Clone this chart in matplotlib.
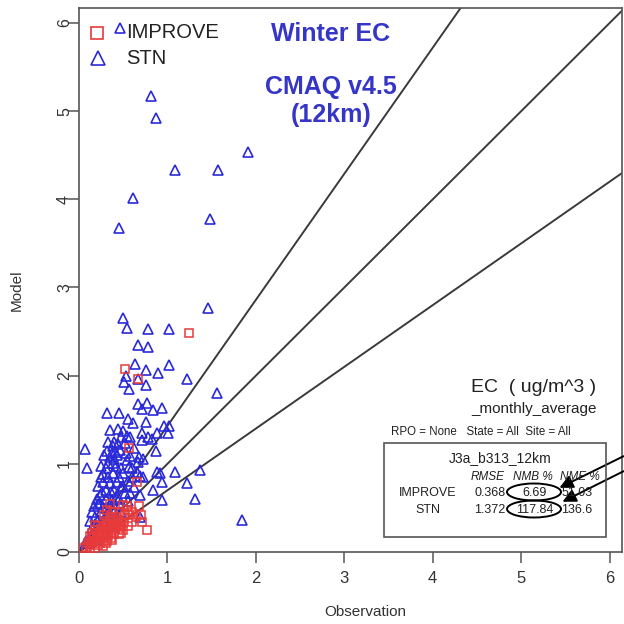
import matplotlib
matplotlib.use("Agg")
import matplotlib.pyplot as plt
from matplotlib.patches import Rectangle, Ellipse
import numpy as np

plt.rcParams['font.family'] = ['Liberation Sans', 'DejaVu Sans']

# STN (blue triangles): observation, model
stn_obs = [0.46, 0.81, 0.87, 1.91, 1.09, 1.57, 0.61, 0.45, 1.48, 1.46, 0.50, 0.54, 0.78, 1.02,
           0.67, 0.78, 0.63, 1.02, 0.76, 0.89, 0.53, 0.67, 0.51, 0.76, 0.57, 1.22, 1.56, 0.67,
           0.77, 0.71, 0.84, 0.94, 0.32, 0.45, 0.55, 0.61, 0.76, 0.96, 1.02, 0.35, 0.44, 0.50,
           0.54, 0.71, 0.78, 0.88, 1.01, 0.33, 0.38, 0.44, 0.52, 0.71, 0.83, 0.87, 0.41, 0.35,
           0.43, 0.58, 0.68, 0.33, 0.38, 0.54, 0.67, 0.72, 0.07, 0.09, 0.57, 0.66, 0.72, 0.69,
           0.88, 0.92, 0.94, 1.09, 1.37, 1.22, 1.31, 0.94, 0.84, 0.69, 0.58, 0.48, 0.35, 0.26,
           0.42, 0.24, 1.84, 0.69, 0.37, 0.46, 0.27, 0.43, 0.27, 0.18, 0.21, 0.32, 0.35, 0.38,
           0.26, 0.15, 0.12, 0.32, 0.43, 0.37, 0.46, 0.52, 0.29, 0.20, 0.25, 0.30, 0.22, 0.28,
           0.35, 0.40, 0.15, 0.18, 0.30, 0.33, 0.38, 0.24, 0.40, 0.45, 0.50, 0.30, 0.27, 0.42,
           0.55, 0.60, 0.10, 0.08, 0.05, 0.20, 0.35, 0.48, 0.55, 0.62, 0.28, 0.25,
           0.15, 0.20, 0.22, 0.30, 0.33, 0.45, 0.50, 0.40, 0.32, 0.25, 0.12, 0.17, 0.36, 0.47,
           0.60, 0.53, 0.62, 0.58, 0.48, 0.40]
stn_mod = [5.94, 5.17, 4.92, 4.54, 4.33, 4.33, 4.01, 3.67, 3.78, 2.77, 2.65, 2.54, 2.53, 2.53,
           2.35, 2.32, 2.13, 2.12, 2.06, 2.03, 2.00, 1.96, 1.93, 1.89, 1.85, 1.96, 1.80, 1.68,
           1.69, 1.62, 1.61, 1.63, 1.58, 1.58, 1.51, 1.46, 1.47, 1.43, 1.43, 1.38, 1.39, 1.37,
           1.32, 1.35, 1.30, 1.35, 1.35, 1.25, 1.20, 1.22, 1.24, 1.27, 1.28, 1.15, 1.13, 1.08,
           1.10, 1.09, 1.08, 1.01, 1.01, 1.04, 1.02, 1.05, 1.17, 0.95, 0.96, 0.91, 0.85, 0.86,
           0.91, 0.90, 0.79, 0.91, 0.93, 0.78, 0.60, 0.59, 0.70, 0.65, 0.67, 0.74, 0.78, 0.68,
           0.62, 0.56, 0.36, 0.40, 1.12, 1.16, 0.79, 0.79, 0.51, 0.40, 0.36, 0.44, 0.39, 0.48,
           0.27, 0.27, 0.17, 0.28, 0.36, 0.59, 0.53, 0.67, 0.22, 0.30, 0.45, 0.60, 0.55, 0.35,
           0.55, 0.45, 0.20, 0.32, 0.70, 0.85, 0.90, 0.65, 0.70, 0.85, 0.90, 0.95, 0.88, 0.97,
           0.80, 0.85, 0.10, 0.12, 0.05, 0.14, 0.30, 0.45, 0.58, 0.74, 1.10, 0.98,
           0.45, 0.60, 0.75, 0.50, 0.40, 0.60, 0.75, 1.05, 1.15, 0.85, 0.35, 0.52, 0.68, 0.95,
           0.95, 1.12, 1.18, 1.30, 1.30, 1.25]

# IMPROVE (red squares): observation, model
imp_obs = [1.24, 0.52, 0.67, 0.57, 0.66, 0.68, 0.54, 0.71, 0.77, 0.60, 0.58, 0.35, 0.37,
           0.18, 0.16, 0.24, 0.32, 0.50, 0.05, 0.08, 0.10, 0.12, 0.14, 0.15, 0.17, 0.18,
           0.20, 0.20, 0.22, 0.24, 0.25, 0.26, 0.28, 0.28, 0.30, 0.30, 0.32, 0.33, 0.35,
           0.36, 0.38, 0.38, 0.40, 0.41, 0.42, 0.43, 0.44, 0.45, 0.46, 0.47, 0.48, 0.50,
           0.42, 0.35, 0.30, 0.25, 0.32, 0.36, 0.22, 0.18, 0.15, 0.12, 0.52, 0.48, 0.40,
           0.28, 0.55, 0.18, 0.27, 0.60, 0.65, 0.70, 0.55, 0.45, 0.38, 0.50, 0.45, 0.33,
           0.22, 0.13, 0.30]
imp_mod = [2.48, 2.07, 1.96, 1.18, 0.79, 0.52, 0.52, 0.34, 0.25, 0.34, 0.42, 0.54, 0.14,
           0.31, 0.17, 0.10, 0.48, 0.53, 0.04, 0.06, 0.10, 0.08, 0.13, 0.10, 0.16, 0.12,
           0.18, 0.22, 0.15, 0.20, 0.26, 0.18, 0.24, 0.30, 0.22, 0.28, 0.32, 0.25, 0.30,
           0.22, 0.28, 0.35, 0.30, 0.26, 0.33, 0.29, 0.36, 0.31, 0.27, 0.34, 0.30, 0.33,
           0.40, 0.40, 0.35, 0.12, 0.12, 0.16, 0.30, 0.25, 0.22, 0.18, 0.42, 0.22, 0.20,
           0.42, 0.30, 0.05, 0.07, 0.45, 0.40, 0.42, 0.48, 0.45, 0.45, 0.25, 0.20, 0.18,
           0.08, 0.05, 0.10]

ref_slopes = [1.43, 1.0, 0.70]
ticks = [0, 1, 2, 3, 4, 5, 6]

stat_rows = ["IMPROVE", "STN"]
rmse = ["0.368", "1.372"]
nmb = ["6.69", "117.84"]
nme = ["51.03", "136.6"]

W = 624.0
def fx(px):
    return px / W
def fy(py):
    return 1 - py / W

fig = plt.figure(figsize=(6.24, 6.24), dpi=100)
ax = fig.add_axes([fx(79), fy(552), (622 - 79) / W, (552 - 8) / W])
ax.set_xlim(0, 6.14)
ax.set_ylim(0, 6.17)

xs = np.array([0, 7])
for s in ref_slopes:
    ax.plot(xs, s * xs, color='#3a3a3a', lw=1.4, zorder=1)

blue = '#2a2ad8'
red = '#e83a3a'
ax.plot(stn_obs, stn_mod, ls='none', marker='^', ms=7, mfc='none', mec=blue, mew=1.2, zorder=2)
ax.plot(imp_obs, imp_mod, ls='none', marker='s', ms=6, mfc='none', mec=red, mew=1.1, zorder=3)

for sp in ax.spines.values():
    sp.set_color('#555555')
    sp.set_linewidth(1.2)
ax.set_xticks(ticks)
ax.set_yticks(ticks)
ax.tick_params(axis='both', direction='out', length=8, width=1.1, color='#555555',
               labelsize=12, labelcolor='#333333')
ax.tick_params(axis='x', pad=6)
ax.tick_params(axis='y', pad=-3, labelsize=11.5)
for lab in ax.get_yticklabels():
    lab.set_rotation(90)
    lab.set_va('center')

fig.text(fx(365), fy(612), 'Observation', ha='center', va='center', fontsize=11, color='#333333')
fig.text(fx(17), fy(290), 'Model', ha='center', va='center', rotation=90, fontsize=11, color='#333333')

# legend
fig.lines.append(plt.Line2D([fx(97)], [fy(33)], transform=fig.transFigure, ls='none', marker='s',
                            ms=8, mfc='none', mec=red, mew=1.2))
fig.lines.append(plt.Line2D([fx(98)], [fy(58)], transform=fig.transFigure, ls='none', marker='^',
                            ms=10, mfc='none', mec=blue, mew=1.2))
fig.text(fx(126), fy(33), 'IMPROVE', ha='left', va='center', fontsize=14.5, color='#222222')
fig.text(fx(126), fy(59), 'STN', ha='left', va='center', fontsize=14.5, color='#222222')

title_c = '#3535c8'
fig.text(fx(331), fy(34), 'Winter EC', ha='center', va='center', fontsize=18, fontweight='bold', color=title_c)
fig.text(fx(331), fy(87), 'CMAQ v4.5', ha='center', va='center', fontsize=18, fontweight='bold', color=title_c)
fig.text(fx(331), fy(115), '(12km)', ha='center', va='center', fontsize=18, fontweight='bold', color=title_c)

# stats annotation
fig.text(fx(534), fy(387), 'EC  ( ug/m^3 )', ha='center', va='center', fontsize=14, color='#222222')
fig.text(fx(534), fy(409), '_monthly_average', ha='center', va='center', fontsize=11, color='#222222')
fig.text(fx(481), fy(432), 'RPO = None   State = All  Site = All', ha='center', va='center', fontsize=8.3, color='#222222')
fig.patches.append(Rectangle((fx(384), fy(537)), (606 - 384) / W, (537 - 443) / W, transform=fig.transFigure,
                             fill=False, ec='#555555', lw=1.2))
fig.text(fx(500), fy(458), 'J3a_b313_12km', ha='center', va='center', fontsize=10, color='#222222')
fig.text(fx(488), fy(477), 'RMSE', ha='center', va='center', fontsize=8.5, style='italic', color='#222222')
fig.text(fx(533), fy(477), 'NMB %', ha='center', va='center', fontsize=8.5, style='italic', color='#222222')
fig.text(fx(580), fy(477), 'NME %', ha='center', va='center', fontsize=8.5, style='italic', color='#222222')
row_y = [493, 510]
for i in range(len(stat_rows)):
    fig.text(fx(428), fy(row_y[i]), stat_rows[i], ha='center', va='center', fontsize=9, color='#222222')
    fig.text(fx(490), fy(row_y[i]), rmse[i], ha='center', va='center', fontsize=9, color='#222222')
    fig.text(fx(535), fy(row_y[i]), nmb[i], ha='center', va='center', fontsize=9, color='#222222')
    fig.text(fx(577), fy(row_y[i]), nme[i], ha='center', va='center', fontsize=9, color='#222222')
    fig.patches.append(Ellipse((fx(534), fy(row_y[i] - 1)), 54 / W, 17 / W, transform=fig.transFigure,
                               fill=False, ec='black', lw=1.4))

ax.annotate('', xy=(fx(557), fy(489)), xytext=(fx(626), fy(455)), xycoords='figure fraction',
            textcoords='figure fraction', annotation_clip=False,
            arrowprops=dict(arrowstyle='-|>', color='black', lw=1.4, mutation_scale=20))
ax.annotate('', xy=(fx(560), fy(503)), xytext=(fx(626), fy(470)), xycoords='figure fraction',
            textcoords='figure fraction', annotation_clip=False,
            arrowprops=dict(arrowstyle='-|>', color='black', lw=1.4, mutation_scale=20))

fig.savefig('out.png', dpi=100)
